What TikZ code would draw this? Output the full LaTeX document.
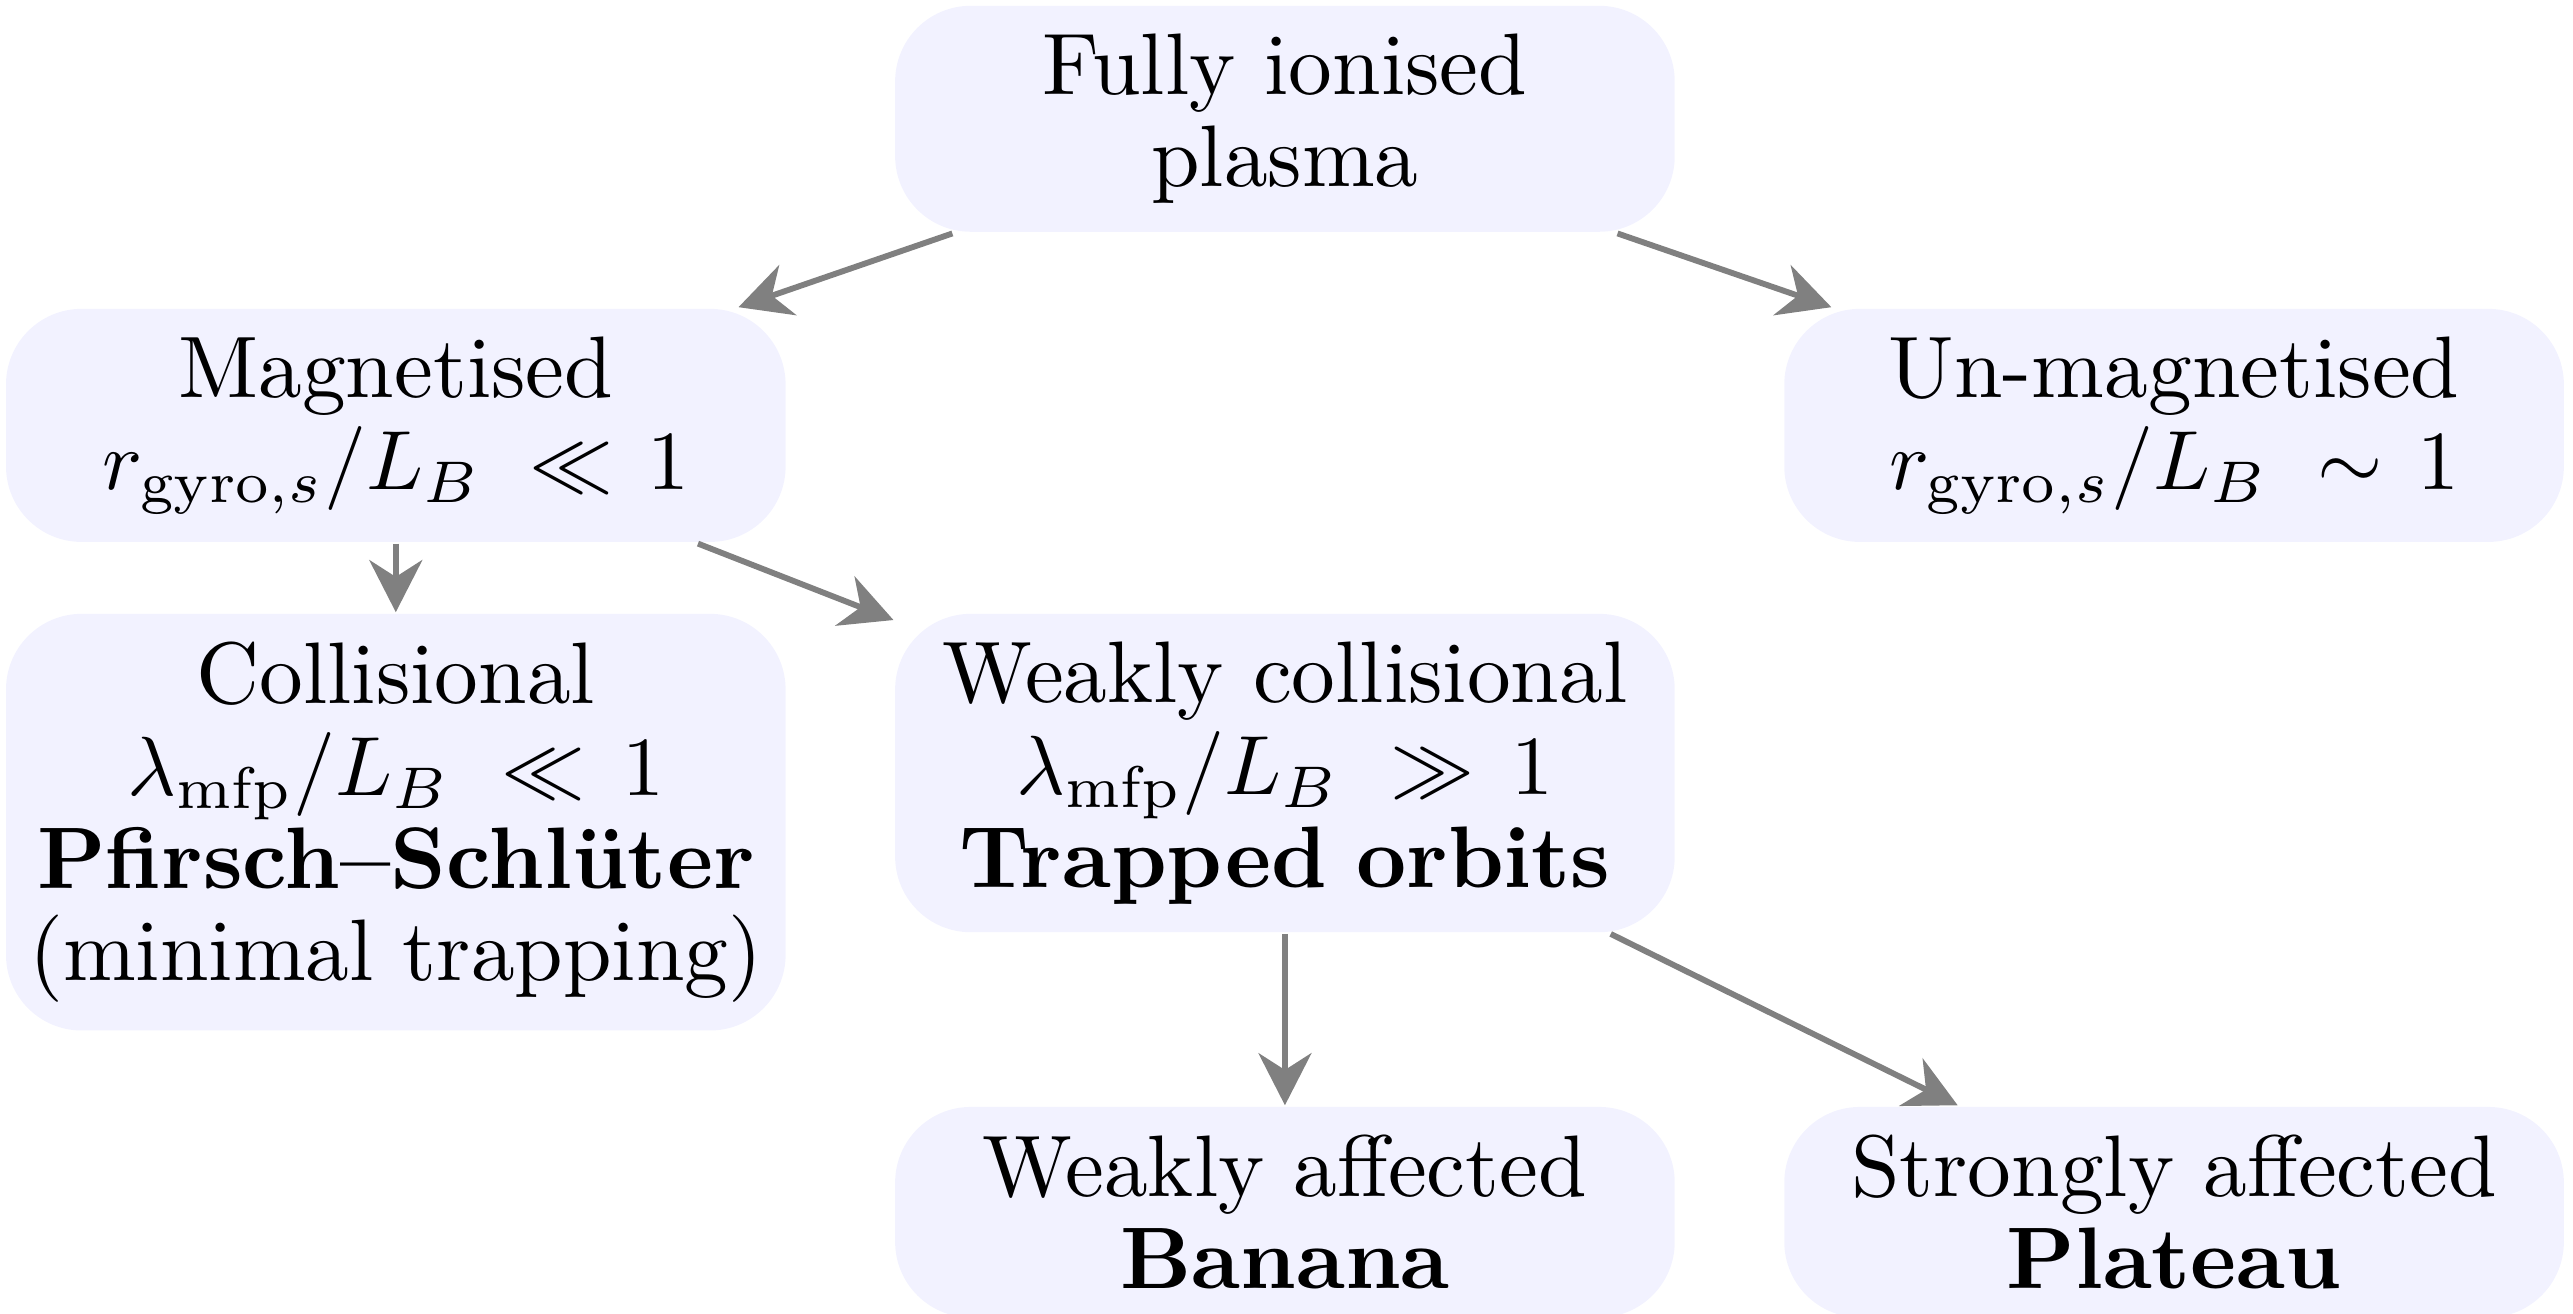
\documentclass[tikz,border=0pt]{standalone}
\usetikzlibrary{arrows.meta}
\tikzset{
	regime/.style = {anchor=north, fill=blue!5, rounded corners=9pt, text width=3.1cm, inner xsep=2.3pt, align=center, font=\fontsize{10.4}{11}\selectfont},
	flow/.style = {draw=gray, line width=0.7pt, -{Stealth[length=6.2pt, width=6.3pt, inset=2pt]}}
}
\begin{document}
\begin{tikzpicture}
	\useasboundingbox (-5.376,0.017) rectangle (5.389,-5.477);
	\node[regime] (plasma) at (0,0) {Fully ionised\\plasma};
	\node[regime] (mag) at (-3.72,-1.268) {Magnetised\\$r_{\mathrm{gyro},s}/L_B\,\ll 1$};
	\node[regime] (unmag) at (3.72,-1.268) {Un-magnetised\\$r_{\mathrm{gyro},s}/L_B\,\sim 1$};
	\node[regime] (coll) at (-3.72,-2.544) {Collisional\\$\lambda_{\mathrm{mfp}}/L_B\,\ll 1$\\\textbf{Pfirsch--Schl\"uter}\\(minimal trapping)};
	\node[regime] (weak) at (0,-2.544) {Weakly collisional\\$\lambda_{\mathrm{mfp}}/L_B\,\gg 1$\\\textbf{Trapped orbits}};
	\node[regime] (banana) at (0,-4.607) {Weakly affected\\\textbf{Banana}};
	\node[regime] (plateau) at (3.72,-4.607) {Strongly affected\\\textbf{Plateau}};

	\draw[flow] (plasma) -- (mag);
	\draw[flow] (plasma) -- (unmag);
	\draw[flow] (mag) -- (coll);
	\draw[flow] (mag) -- (weak);
	\draw[flow] (weak) -- (banana);
	\draw[flow] (weak) -- (plateau);
\end{tikzpicture}
\end{document}
